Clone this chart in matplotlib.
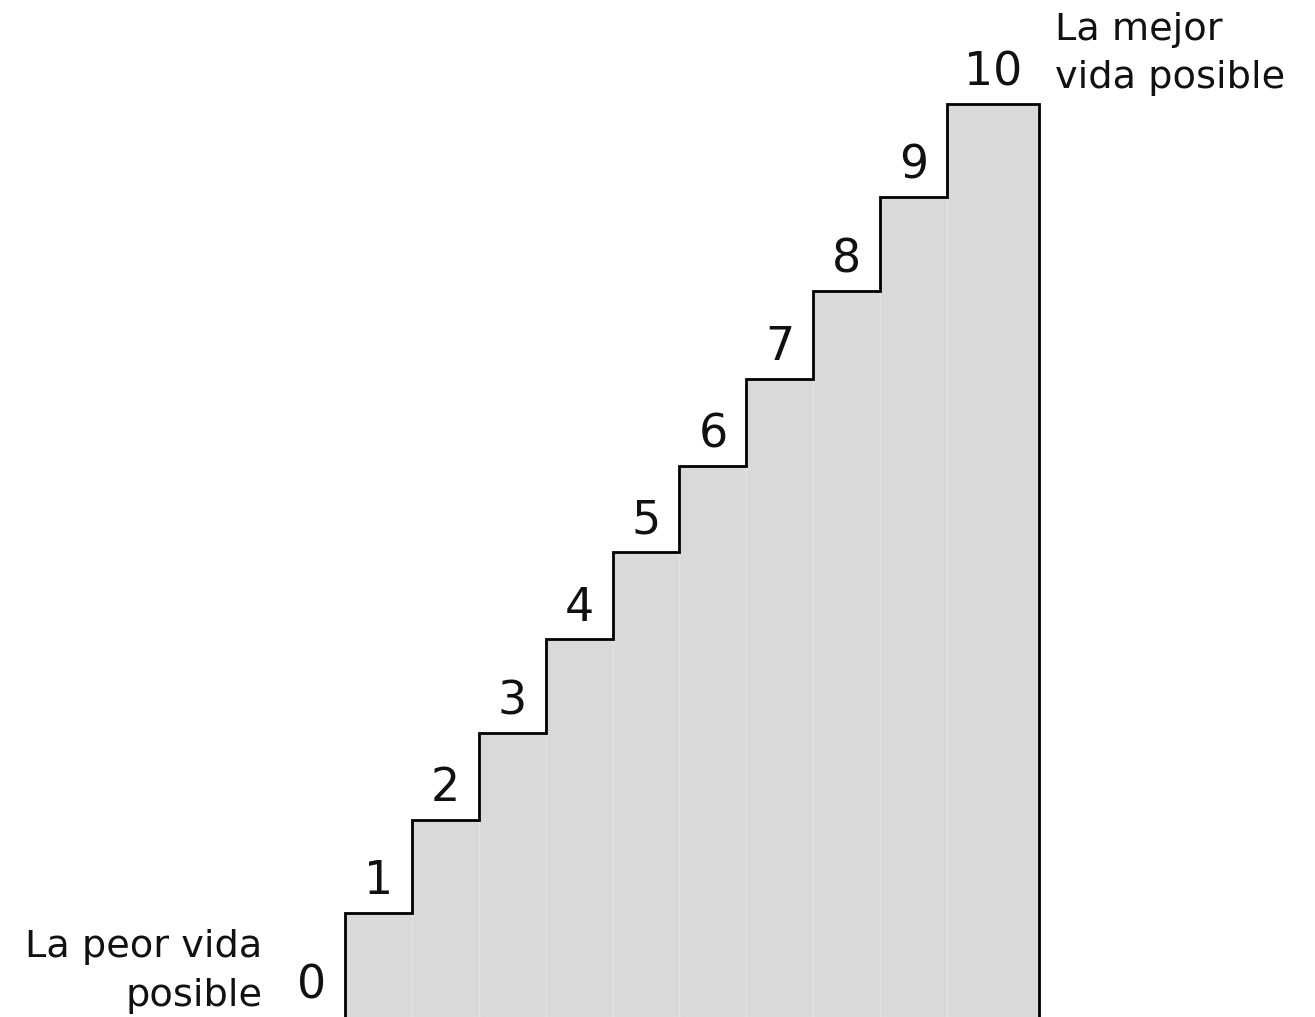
import matplotlib
matplotlib.use('Agg')
import matplotlib.pyplot as plt
import numpy as np

# ladder steps 0..10 (top height of each step)
steps = [0, 1, 2, 3, 4, 5, 6, 7, 8, 9, 10]
heights = [0, 1.14, 2.16, 3.11, 4.14, 5.09, 6.04, 6.99, 7.95, 8.98, 10.0]
widths = [1, 1, 1, 1, 1, 1, 1, 1, 1, 1, 1.37]
low_label = 'La peor vida\nposible'
high_label = 'La mejor\nvida posible'

plt.rcParams['font.family'] = ['DejaVu Sans']

fig = plt.figure(figsize=(13.15, 10.17), dpi=100)
ax = fig.add_axes([0, 0, 1, 1])
ax.set_xlim(-5.157, 14.50)
ax.set_ylim(0, 11.14)
ax.axis('off')

h = np.array(heights)
w = np.array(widths)
left = np.concatenate([[-1], np.cumsum(w[1:]) - w[1:]])

# grey body of the ladder
ax.bar(left[1:], h[1:], width=w[1:], align='edge', color='#d9d9d9',
       edgecolor='#e3e3e3', linewidth=1, zorder=1)

# outline of the steps
edges = np.concatenate([[0], np.cumsum(w[1:])])
xs = np.repeat(edges, 2)
ys = np.concatenate([[0], np.repeat(h[1:], 2), [0]])
ax.plot(xs, ys, color='black', lw=2.0, zorder=3, solid_joinstyle='miter')

# step numbers
for s, x0, wi, hi in zip(steps, left, w, h):
    ax.text(x0 + wi / 2, hi + 0.34, str(s), ha='center', va='center',
            fontsize=33, color='#111111')

ax.text(-1.24, 0.50, low_label, ha='right', va='center', multialignment='right',
        fontsize=27.5, linespacing=1.45, color='#111111')
ax.text(edges[-1] + 0.25, 10.55, high_label, ha='left', va='center',
        multialignment='left', fontsize=27.5, linespacing=1.45, color='#111111')

plt.savefig('out.png', dpi=100)
